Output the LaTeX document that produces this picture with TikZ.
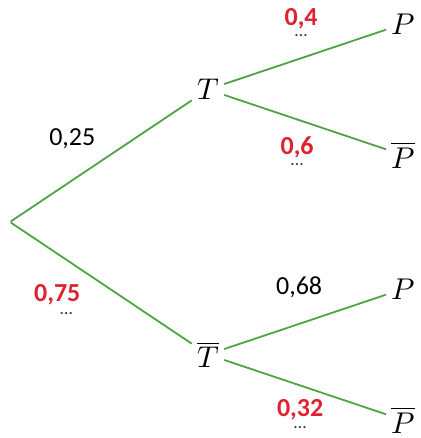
\documentclass[tikz,border=0pt]{standalone}
\usepackage{amsmath,amssymb}
\usepackage{unicode-math}
\setmainfont{Carlito}
\setmathfont{Latin Modern Math}
\usepackage{tikz}
\usepackage{xcolor}
\definecolor{branchgreen}{RGB}{78,164,66}
\definecolor{answerred}{RGB}{222,34,48}
\definecolor{dotgray}{RGB}{60,60,60}

\begin{document}
\begin{tikzpicture}[x=1pt,y=1pt,grow'=right,
  level 1/.style={level distance=198pt,sibling distance=265pt},
  level 2/.style={level distance=195pt,sibling distance=131pt},
  edge from parent/.style={draw=branchgreen,line width=1.8pt},
  event/.style={font=\fontsize{30}{36}\selectfont,inner sep=5pt},
  prob/.style={font=\fontsize{26}{31}\selectfont,inner sep=0pt},
  blankdots/.style={font=\fontsize{18}{20}\selectfont,text=dotgray,inner sep=1pt},
  redprob/.style={prob,font=\fontsize{26}{31}\selectfont\bfseries,text=answerred},
  answer/.style={redprob,label={[blankdots,label distance=3pt]below:\ldots}}]
\useasboundingbox (0,0) rectangle (420,438);
\node[inner sep=0pt] (root) at (10,216) {}
  child {node[event] (T) {$T$}
    child {node[event] (TP) {$P$}
      edge from parent node[answer,xshift=-4pt,yshift=38pt] (pTP) {0,4}}
    child {node[event] (TPb) {$\overline{P}$}
      edge from parent node[answer,xshift=-8pt,yshift=-25pt] (pTPb) {0,6}}
    edge from parent node[prob,xshift=-29pt,yshift=22pt] (pT) {0,25}}
  child {node[event] (Tb) {$\overline{T}$}
    child {node[event] (TbP) {$P$}
      edge from parent node[prob,xshift=-6pt,yshift=35pt] (pTbP) {0,68}}
    child {node[event] (TbPb) {$\overline{P}$}
      edge from parent node[answer,xshift=-5pt,yshift=-23pt] (pTbPb) {0,32}}
    edge from parent node[redprob,xshift=-44pt,yshift=-12pt,
      label={[blankdots,xshift=9pt,label distance=4pt]below:\ldots}] (pTb) {0,75}};
\end{tikzpicture}
\end{document}
